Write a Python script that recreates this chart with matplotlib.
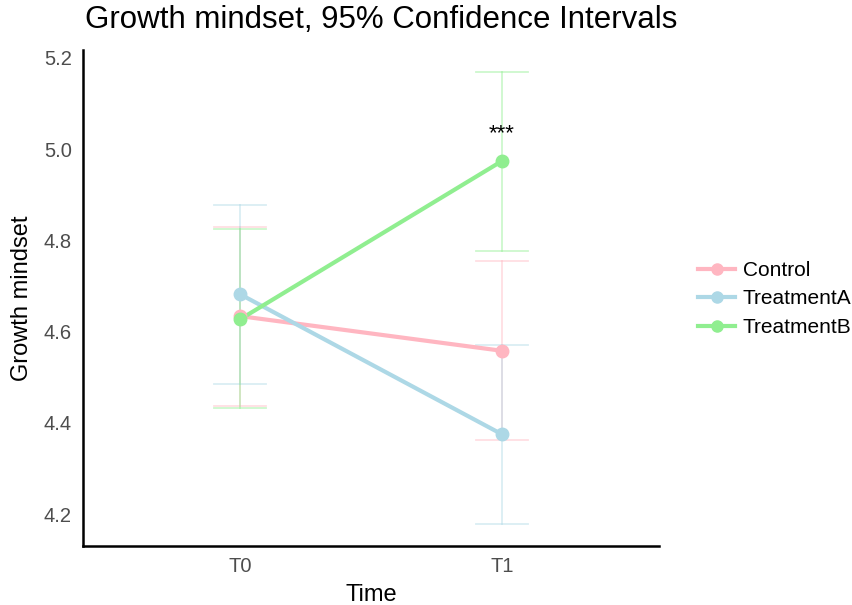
import matplotlib
matplotlib.use("Agg")
import matplotlib.pyplot as plt
from matplotlib.lines import Line2D

plt.rcParams['font.family'] = ['Liberation Sans', 'DejaVu Sans']

times = ["T0", "T1"]
groups = ["Control", "TreatmentA", "TreatmentB"]
colors = {"Control": "#FFB6C1", "TreatmentA": "#ADD8E6", "TreatmentB": "#90EE90"}

means = {
    "Control": [4.634, 4.558],
    "TreatmentA": [4.682, 4.375],
    "TreatmentB": [4.627, 4.974],
}
ci_low = {
    "Control": [4.437, 4.362],
    "TreatmentA": [4.486, 4.178],
    "TreatmentB": [4.432, 4.777],
}
ci_high = {
    "Control": [4.830, 4.755],
    "TreatmentA": [4.878, 4.571],
    "TreatmentB": [4.824, 5.170],
}
sig_label = "***"
sig_time = 1
sig_y = 5.034

fig = plt.figure(figsize=(8.53, 6.05), dpi=100)
ax = fig.add_axes([83 / 853, 1 - 546 / 605, (659 - 83) / 853, (546 - 50) / 605])

x = list(range(1, len(times) + 1))
for g in groups:
    c = colors[g]
    # confidence interval whiskers
    for xi, lo, hi in zip(x, ci_low[g], ci_high[g]):
        ax.plot([xi, xi], [lo, hi], color=c, alpha=0.45, lw=1.3, zorder=1)
        for yv in (lo, hi):
            ax.plot([xi - 0.1, xi + 0.1], [yv, yv], color=c, alpha=0.45, lw=1.3, zorder=1)
    ax.plot(x, means[g], color=c, lw=3, zorder=2)
    ax.plot(x, means[g], 'o', color=c, ms=9, zorder=3)

ax.text(x[sig_time], sig_y, sig_label, ha='center', va='center', fontsize=16, color='black')

ax.set_xlim(0.4, 2.6)
ax.set_ylim(4.130, 5.2175)
ax.set_xticks(x)
ax.set_xticklabels(times)
ax.set_yticks([4.2, 4.4, 4.6, 4.8, 5.0, 5.2])
ax.set_yticklabels(["4.2", "4.4", "4.6", "4.8", "5.0", "5.2"])
ax.tick_params(length=0, labelsize=14.5, labelcolor='#4D4D4D', pad=8)
for s in ("top", "right"):
    ax.spines[s].set_visible(False)
for s in ("left", "bottom"):
    ax.spines[s].set_linewidth(1.8)
    ax.spines[s].set_color('black')

ax.set_xlabel("Time", fontsize=17, va='center')
ax.xaxis.set_label_coords(0.5, (546 - 595) / 496)
ax.set_ylabel("Growth mindset", fontsize=17, va='center')
ax.yaxis.set_label_coords((22 - 83) / 576, 0.5)
fig.text(85 / 853, 1 - 20 / 605, "Growth mindset, 95% Confidence Intervals",
         fontsize=22.5, ha='left', va='center')

handles = [Line2D([0], [0], color=colors[g], lw=3, marker='o', ms=8) for g in groups]
fig.legend(handles, groups, loc='center left', bbox_to_anchor=(698 / 853, 1 - 299 / 605),
           frameon=False, fontsize=15, handlelength=1.8, labelspacing=0.45,
           handletextpad=0.35, borderpad=0, borderaxespad=0)

fig.savefig("out.png", dpi=100)
